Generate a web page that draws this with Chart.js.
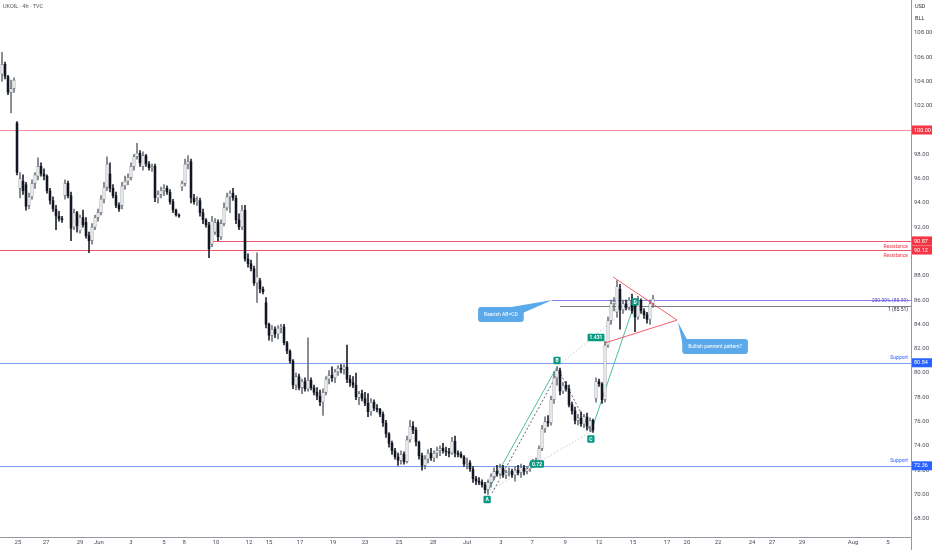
<!DOCTYPE html>
<html><head><meta charset="utf-8">
<script src="https://cdn.jsdelivr.net/npm/chart.js@4.4.1/dist/chart.umd.min.js"></script>
<style>html,body{margin:0;padding:0;background:#fff;overflow:hidden}canvas{display:block}</style>
</head><body>
<canvas id="c" width="932" height="550"></canvas>
<script>
// ---- DATA (UKOIL 4h) ----
const opens = [104.6,105.4,104.4,103.1,103.4,100.6,95.2,95.8,95.5,93.8,94.5,95.6,96.2,97.0,96.4,96.2,95.0,94.2,93.5,92.9,
92.7,94.6,95.6,94.6,92.0,93.2,91.7,92.8,92.4,91.3,90.9,92.0,92.8,93.2,94.3,95.3,96.4,95.2,94.6,93.8,
93.8,95.4,95.8,96.1,97.0,97.8,98.1,97.0,97.9,97.2,96.9,97.0,94.4,94.7,95.0,95.2,94.9,94.1,93.4,93.0,
95.3,95.6,97.2,97.4,94.4,94.1,94.2,93.2,92.6,92.2,90.6,91.6,92.4,91.2,92.3,93.6,94.5,94.8,94.4,92.6,
92.0,93.4,89.4,89.0,88.6,87.4,87.6,86.9,85.8,84.0,83.1,83.6,83.2,83.7,83.8,82.5,81.8,81.0,79.0,79.7,
78.8,79.3,78.7,79.4,78.8,78.4,78.1,77.6,78.4,79.5,79.8,79.6,80.1,80.4,80.3,80.5,79.5,79.2,79.0,78.0,
78.3,77.9,77.5,76.8,77.6,77.1,77.0,76.6,75.9,75.0,74.2,73.6,73.1,72.8,73.3,72.7,74.5,75.6,75.3,74.3,
73.2,72.4,72.9,73.4,73.0,73.4,73.6,73.8,73.6,73.5,73.4,74.4,73.4,73.3,73.1,72.5,72.6,72.1,71.3,71.1,
71.0,70.8,70.4,71.0,71.5,71.9,71.7,72.2,71.6,71.8,71.9,71.6,72.0,71.8,72.2,71.9,72.1,72.4,72.7,72.8,
73.8,75.4,76.0,75.9,77.8,79.6,80.2,78.5,79.0,78.7,77.4,76.9,76.1,76.3,75.8,76.4,75.6,76.1,77.9,79.3,
79.1,77.8,82.3,84.3,85.7,85.0,86.9,85.2,85.7,85.4,86.0,85.6,84.6,86.0,85.1,84.8,84.4,85.7];
const highs = [106.4,105.6,104.5,104.1,104.3,100.7,96.5,96.3,95.7,94.8,95.9,96.5,97.7,97.3,96.8,96.3,95.2,94.5,93.8,93.3,
92.9,95.9,95.8,94.9,93.5,93.3,93.0,93.4,92.8,91.6,92.3,93.0,93.5,94.6,95.7,97.8,97.3,95.5,94.9,94.0,
95.7,96.2,96.4,97.3,98.0,98.9,98.3,98.2,98.0,97.4,97.2,97.2,95.0,95.3,95.5,95.4,95.1,94.3,93.5,93.1,
95.8,97.6,97.9,97.6,94.7,94.5,94.4,93.5,92.7,92.4,92.9,92.7,92.6,92.6,94.0,94.8,95.0,95.2,94.6,93.1,
93.8,93.8,89.8,89.3,88.8,89.9,87.8,87.1,86.2,84.1,83.9,83.8,83.9,84.0,84.0,82.6,81.9,81.1,80.0,79.9,
79.5,79.6,82.9,79.6,79.0,78.8,78.6,78.7,79.7,80.2,80.5,80.3,80.6,80.7,80.7,82.3,79.8,79.7,80.0,78.5,
78.6,78.4,78.3,77.9,77.8,77.4,77.1,76.8,76.1,75.1,74.4,73.8,73.4,73.6,73.5,74.8,76.1,76.0,75.5,74.4,
73.4,73.2,73.7,73.8,73.6,73.9,74.0,74.2,73.9,73.8,74.7,74.8,73.6,73.5,73.2,73.0,72.8,72.3,71.5,71.4,
71.2,71.0,71.2,71.7,72.2,72.4,72.5,72.4,72.0,72.2,72.1,72.3,72.4,72.5,72.4,72.3,72.6,72.9,73.0,74.0,
75.7,76.4,76.5,78.1,80.1,80.5,80.4,79.2,79.3,79.0,77.6,77.2,76.6,76.8,76.6,76.7,76.3,76.2,79.6,79.5,
79.2,82.6,84.6,86.0,86.2,87.6,87.3,86.0,86.0,86.2,86.5,86.0,86.3,86.1,85.3,85.0,86.0,86.4];
const lows = [104.0,104.2,102.9,101.4,103.1,96.3,94.4,94.7,93.4,93.5,94.3,95.2,95.9,96.2,95.9,94.8,93.9,93.3,91.8,92.5,
92.4,94.3,94.4,90.9,91.8,91.6,91.5,92.0,91.1,89.9,90.6,91.8,92.5,93.0,94.0,95.0,94.9,94.4,93.6,93.3,
93.5,95.1,95.5,95.9,96.7,97.6,97.0,96.7,97.0,96.7,96.6,94.1,94.0,94.4,94.6,94.7,93.9,93.2,92.9,92.8,
95.0,95.4,96.8,94.0,93.9,93.8,92.9,92.3,92.0,89.5,90.4,91.4,90.9,91.0,92.1,93.4,93.2,94.2,92.3,91.8,
91.8,89.2,88.7,88.4,87.2,85.8,86.6,86.5,83.7,82.7,82.6,82.9,82.8,83.3,82.3,81.6,80.8,78.7,78.6,78.6,
78.3,78.5,78.5,78.6,78.2,77.8,77.3,76.5,78.2,79.1,79.3,79.2,79.8,80.0,79.9,79.2,78.9,78.8,77.8,77.4,
77.7,77.3,76.4,76.5,76.9,76.8,76.4,75.6,74.7,73.9,73.3,72.9,72.4,72.5,72.5,72.6,74.3,75.0,74.0,72.9,
72.0,72.1,72.6,72.8,72.7,73.0,73.2,73.4,73.2,73.1,73.3,73.1,73.1,73.0,72.3,72.1,71.9,71.0,70.8,70.8,
70.6,70.1,70.0,70.6,71.2,71.5,71.5,71.4,71.3,71.5,71.4,71.1,71.6,71.4,71.6,71.7,71.9,72.2,72.4,72.7,
73.6,75.1,75.6,75.7,77.5,79.0,78.2,78.3,78.5,77.2,76.6,75.8,75.7,75.6,75.5,75.3,75.2,75.1,77.6,78.9,
77.5,77.6,82.1,84.0,85.1,84.6,83.6,84.9,85.2,85.2,84.9,83.4,84.4,84.9,84.5,84.1,84.0,85.4];
const closes = [105.4,104.4,103.1,103.4,104.1,96.5,96.0,95.0,93.7,94.5,95.6,96.3,97.0,96.4,96.2,95.0,94.2,93.5,92.9,92.7,
92.6,95.6,94.6,91.9,93.2,92.1,92.8,92.2,91.3,90.9,92.0,92.8,93.2,94.3,95.3,97.2,95.2,94.6,93.8,93.5,
95.4,95.8,96.1,97.0,97.8,98.1,97.3,97.9,97.2,96.9,97.0,94.4,94.7,95.0,95.2,94.9,94.1,93.4,93.0,92.9,
95.6,97.2,97.4,94.4,94.1,94.2,93.2,92.6,92.2,90.2,92.5,92.4,91.2,92.3,93.6,94.5,94.8,94.4,92.6,92.0,
93.4,89.4,89.0,88.6,87.4,87.9,86.9,86.7,84.0,83.1,83.6,83.2,83.7,83.8,82.5,81.8,81.0,79.0,79.7,78.8,
79.3,78.7,79.4,78.8,78.4,78.1,77.6,78.4,79.5,79.8,79.6,80.1,80.4,80.3,80.5,79.5,79.2,79.0,78.0,78.3,
77.9,77.5,76.8,77.6,77.1,77.0,76.6,75.9,75.0,74.2,73.6,73.1,72.8,73.3,72.7,74.5,75.6,75.3,74.3,73.2,
72.4,72.9,73.4,73.0,73.4,73.6,73.8,73.6,73.5,73.4,74.4,73.4,73.3,73.1,72.5,72.6,72.1,71.3,71.1,71.0,
70.8,70.4,71.0,71.5,71.9,71.7,72.2,71.6,71.8,71.9,71.6,72.0,71.8,72.2,71.9,72.1,72.4,72.7,72.8,73.8,
75.4,76.0,75.9,77.8,79.6,80.2,78.5,79.0,78.7,77.4,76.9,76.1,76.3,75.8,76.4,75.6,76.1,75.3,79.3,79.1,
77.8,82.3,84.3,85.7,85.9,87.1,85.2,85.7,85.4,86.0,85.1,84.6,86.0,85.1,84.8,84.4,85.7,86.1];

const xTickPos = [5.3,14.7,26,32.3,43,54,60.7,71.3,82.3,89,99.3,110.3,121,132.3,143.7,
155,166.3,176.7,187.7,199,210.3,221.7,228.3,238.7,250,256.7,266.7,283.7,295.3];
const xTickLabels = ['25','27','29','Jun','3','5','8','10','12','15','17','19','23','25','28',
'Jul','3','7','9','12','15','17','20','22','24','27','29','Aug','5'];
const yTickValues = [68,70,72,74,76,78,80,82,84,86,88,90,92,94,96,98,100,102,104,106,108];

// levels: price, starting bar, side text
const levelPrices = [100.00, 90.87, 90.12, 80.84, 72.36];
const levelStarts = [-1, 70, -1, -1, -1];
const levelNotes  = ['', 'Resistance', 'Resistance', 'Support', 'Support'];
const fibPrices = [85.99, 85.51];
const fibStarts = [183.3, 186];
const fibNotes = ['200.00% (85.99)', '1 (85.51)'];

// ABCD pattern points (bar index, price)
const abcdNames = ['A','B','C','D'];
const abcdX = [161.7, 185, 196.3, 211];
const abcdY = [70.2, 80.5, 75.14, 85.84];
const ratioLabels = ['0.72', '1.431'];

// pennant lines (bar, price)
const pennantUpper = [[203.7, 87.9], [225, 84.35]];
const pennantLower = [[201, 82.47], [225, 84.35]];

// callouts: text, box centre (bar, price), tip (bar, price)
const calloutTexts = ['Bearish AB=CD', 'Bullish pennant pattern?'];
const calloutBox = [[166.3, 84.82], [237.7, 82.18]];
const calloutTip = [[183.5, 86.0], [225.3, 84.2]];

// ---- STYLE ----
const FONT = 'Roboto';
const UP_FILL = '#ffffff', UP_LINE = '#6b6e78', DN = '#131722';
const RED = '#f23645', BLUE = '#2962ff', GREEN = '#089981';

const isUp = closes.map((c, i) => c >= opens[i]);
const wickData = highs.map((h, i) => ({x: i, y: [lows[i], h]}));
const bodyData = closes.map((c, i) => ({x: i, y: [opens[i], c]}));

function rr(ctx, x, y, w, h, r) {
  ctx.beginPath();
  ctx.moveTo(x + r, y); ctx.lineTo(x + w - r, y); ctx.quadraticCurveTo(x + w, y, x + w, y + r);
  ctx.lineTo(x + w, y + h - r); ctx.quadraticCurveTo(x + w, y + h, x + w - r, y + h);
  ctx.lineTo(x + r, y + h); ctx.quadraticCurveTo(x, y + h, x, y + h - r);
  ctx.lineTo(x, y + r); ctx.quadraticCurveTo(x, y, x + r, y); ctx.closePath();
}

const overlay = {
  id: 'overlay',
  beforeDatasetsDraw(chart) {
    const {ctx, chartArea: a, scales: {x, y}} = chart;
    ctx.save();
    ctx.lineWidth = 1.2;
    levelPrices.forEach((p, k) => {
      const py = Math.round(y.getPixelForValue(p)) + 0.5;
      const px0 = levelStarts[k] < 0 ? a.left : x.getPixelForValue(levelStarts[k]);
      ctx.strokeStyle = k === 0 ? '#f590a4' : (k < 3 ? '#f2566e' : '#7d9df2');
      ctx.beginPath(); ctx.moveTo(px0, py); ctx.lineTo(a.right, py); ctx.stroke();
    });
    ctx.lineWidth = 1;
    fibPrices.forEach((p, k) => {
      const py = Math.round(y.getPixelForValue(p)) + 0.5;
      ctx.strokeStyle = k === 0 ? '#8f7fe8' : '#7b7e88';
      ctx.beginPath(); ctx.moveTo(x.getPixelForValue(fibStarts[k]), py); ctx.lineTo(a.right, py); ctx.stroke();
    });
    // ABCD lines
    const P = abcdX.map((v, k) => [x.getPixelForValue(v), y.getPixelForValue(abcdY[k])]);
    const line = (p1, p2, col, dash, w) => {
      ctx.strokeStyle = col; ctx.setLineDash(dash); ctx.lineWidth = w;
      ctx.beginPath(); ctx.moveTo(p1[0], p1[1]); ctx.lineTo(p2[0], p2[1]); ctx.stroke();
    };
    line(P[0], P[2], '#b9bcc4', [1.5, 2], 0.8);
    line(P[1], P[3], '#b9bcc4', [1.5, 2], 0.8);
    line([P[0][0] + 5, P[0][1] + 1], [P[1][0] + 3, P[1][1] + 2], '#3a3d46', [2, 2], 0.8);
    line(P[1], P[2], '#3a3d46', [2, 2], 0.8);
    line(P[0], P[1], '#3bb59a', [], 0.9);
    line(P[2], P[3], '#3bb59a', [], 0.9);
    ctx.setLineDash([]);
    ctx.restore();
  },
  afterDatasetsDraw(chart) {
    const {ctx, chartArea: a, scales: {x, y}} = chart;
    ctx.save();
    // pennant
    ctx.strokeStyle = RED; ctx.lineWidth = 0.8;
    [pennantUpper, pennantLower].forEach(seg => {
      ctx.beginPath();
      ctx.moveTo(x.getPixelForValue(seg[0][0]), y.getPixelForValue(seg[0][1]));
      ctx.lineTo(x.getPixelForValue(seg[1][0]), y.getPixelForValue(seg[1][1]));
      ctx.stroke();
    });
    // level notes
    ctx.font = '5px ' + FONT; ctx.textAlign = 'right'; ctx.textBaseline = 'middle';
    levelPrices.forEach((p, k) => {
      if (!levelNotes[k]) return;
      const py = y.getPixelForValue(p);
      ctx.fillStyle = k < 3 ? RED : BLUE;
      ctx.fillText(levelNotes[k], a.right - 3, k < 3 ? py + 5.5 : py - 5.5);
    });
    fibPrices.forEach((p, k) => {
      const py = y.getPixelForValue(p);
      ctx.fillStyle = k === 0 ? '#5b4fcf' : '#2a2e39';
      ctx.fillText(fibNotes[k], a.right - 3, k === 0 ? py + 1 : py + 4);
    });
    // green labels
    const P = abcdX.map((v, k) => [x.getPixelForValue(v), y.getPixelForValue(abcdY[k])]);
    const tag = (txt, cx, cy) => {
      ctx.font = 'bold 5px ' + FONT;
      const w = Math.max(6, ctx.measureText(txt).width + 4), h = 7.5;
      ctx.fillStyle = GREEN; rr(ctx, cx - w / 2, cy - h / 2, w, h, 1.2); ctx.fill();
      ctx.fillStyle = '#fff'; ctx.textAlign = 'center'; ctx.textBaseline = 'middle';
      ctx.fillText(txt, cx, cy + 0.3);
    };
    const offs = [7.5, -6.5, 7, 0];
    abcdNames.forEach((n, k) => tag(n, P[k][0], P[k][1] + offs[k]));
    tag(ratioLabels[0], (P[0][0] + P[2][0]) / 2 - 2, (P[0][1] + P[2][1]) / 2 + 2);
    tag(ratioLabels[1], (P[1][0] + P[3][0]) / 2, (P[1][1] + P[3][1]) / 2 + 3);
    // callouts
    calloutTexts.forEach((t, k) => {
      ctx.font = '5px ' + FONT;
      const w = ctx.measureText(t).width + 12, h = 15;
      const cx = x.getPixelForValue(calloutBox[k][0]), cy = y.getPixelForValue(calloutBox[k][1]);
      const tx = x.getPixelForValue(calloutTip[k][0]), ty = y.getPixelForValue(calloutTip[k][1]);
      const l = cx - w / 2, tp = cy - h / 2;
      ctx.fillStyle = '#5aa9ea';
      rr(ctx, l, tp, w, h, 3); ctx.fill();
      ctx.beginPath();
      if (tx > cx) { ctx.moveTo(l + w * 0.6, tp + 1); ctx.lineTo(tx, ty); ctx.lineTo(l + w - 1, tp + 6); }
      else { ctx.moveTo(l + 5, tp + 1); ctx.lineTo(tx, ty); ctx.lineTo(l + 1, tp + 8); }
      ctx.closePath(); ctx.fill();
      ctx.fillStyle = '#fff'; ctx.textAlign = 'center'; ctx.textBaseline = 'middle';
      ctx.fillText(t, cx, cy + 0.5);
    });
    ctx.restore();
  },
  afterDraw(chart) {
    const {ctx, chartArea: a, scales: {y}} = chart;
    ctx.save();
    ctx.strokeStyle = '#9598a1'; ctx.lineWidth = 1;
    ctx.beginPath(); ctx.moveTo(Math.round(a.right) + 0.5, a.bottom); ctx.lineTo(Math.round(a.right) + 0.5, chart.height); ctx.stroke();
    // price boxes
    ctx.font = '5.5px ' + FONT; ctx.textAlign = 'left'; ctx.textBaseline = 'middle';
    levelPrices.forEach((p, k) => {
      const py = y.getPixelForValue(p);
      ctx.fillStyle = k < 3 ? RED : BLUE;
      ctx.fillRect(a.right + 1, py - 4.5, chart.width - a.right - 1, 9);
      ctx.fillStyle = '#fff';
      ctx.fillText(p.toFixed(2), a.right + 3, py + 0.3);
    });
    ctx.fillStyle = '#2a2e39'; ctx.font = '5.5px ' + FONT;
    ctx.fillText('USD', a.right + 4, 7);
    ctx.fillText('BLL', a.right + 4, 19);
    ctx.fillStyle = '#50535e';
    ctx.fillText('UKOIL · 4h · TVC', 3, 7);
    ctx.restore();
  }
};

new Chart(document.getElementById('c'), {
  type: 'bar',
  data: {
    datasets: [
      { data: bodyData, order: 1, grouped: false, barThickness: 2.4, minBarLength: 1,
        backgroundColor: isUp.map(u => u ? UP_FILL : DN),
        borderColor: isUp.map(u => u ? UP_LINE : DN),
        borderWidth: 0.7, borderSkipped: false },
      { data: wickData, order: 2, grouped: false, barThickness: 0.9,
        backgroundColor: isUp.map(u => u ? UP_LINE : DN), borderWidth: 0 }
    ]
  },
  options: {
    responsive: false, animation: false, devicePixelRatio: 1,
    layout: { padding: 0 },
    plugins: { legend: { display: false }, tooltip: { enabled: false } },
    scales: {
      x: { type: 'linear', min: -0.67, max: 303, offset: false,
        grid: { display: false, drawTicks: false },
        border: { display: true, color: '#9598a1', width: 1 },
        ticks: { autoSkip: false, maxRotation: 0, padding: 2, color: '#4a4d57',
          font: { family: FONT, size: 6 },
          callback: v => { const k = xTickPos.indexOf(v); return k >= 0 ? xTickLabels[k] : ''; } },
        afterBuildTicks: s => { s.ticks = xTickPos.map(v => ({ value: v })); },
        afterFit: s => { s.height = 13; s.paddingLeft = 0; s.paddingRight = 0; } },
      y: { position: 'right', min: 66.5, max: 110.7, beginAtZero: false,
        grid: { display: false, drawTicks: false },
        border: { display: true, color: '#9598a1', width: 1 },
        ticks: { padding: 3, color: '#4a4d57', font: { family: FONT, size: 6 },
          callback: v => Number(v).toFixed(2) },
        afterBuildTicks: s => { s.ticks = yTickValues.map(v => ({ value: v })); },
        afterFit: s => { s.width = 21; s.paddingTop = 0; s.paddingBottom = 0; } }
    }
  },
  plugins: [overlay]
});
</script>
</body></html>
